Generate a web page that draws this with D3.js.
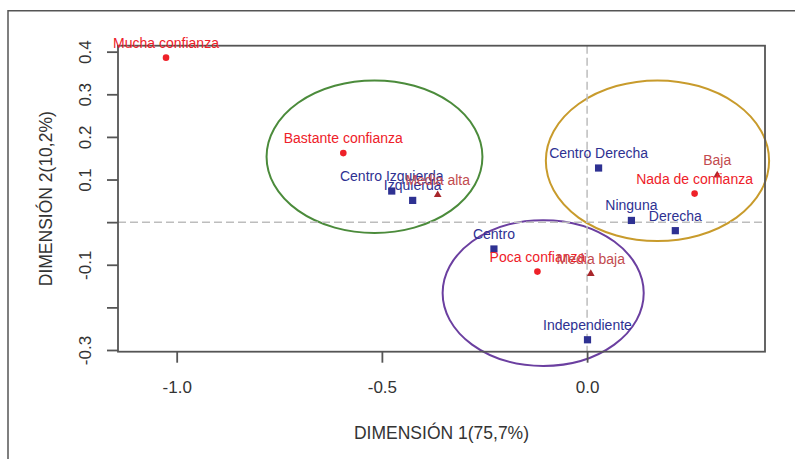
<!DOCTYPE html>
<html>
<head>
<meta charset="utf-8">
<script src="https://cdn.jsdelivr.net/npm/d3@7"></script>
<style>
  html, body { margin: 0; padding: 0; background: #fff; }
  svg { display: block; font-family: "Liberation Sans", Arial, sans-serif; }
</style>
</head>
<body>
<svg id="chart" width="795" height="459"></svg>
<script>
// ---- data ----
const confianzaNames = ["Mucha confianza", "Bastante confianza", "Nada de confianza", "Poca confianza"];
const confianzaX = [-1.026, -0.594, 0.262, -0.121];
const confianzaY = [0.386, 0.162, 0.067, -0.116];

const ideologiaNames = ["Centro Izquierda", "Izquierda", "Centro Derecha", "Ninguna", "Derecha", "Centro", "Independiente"];
const ideologiaX = [-0.476, -0.425, 0.028, 0.108, 0.215, -0.227, 0.001];
const ideologiaY = [0.073, 0.051, 0.127, 0.004, -0.020, -0.063, -0.276];

const nivelNames = ["Media alta", "Baja", "Media baja"];
const nivelX = [-0.364, 0.317, 0.009];
const nivelY = [0.064, 0.110, -0.121];

// cluster ellipses (centre and radii in data units)
const ellipseCx = [-0.518, 0.1715, -0.107];
const ellipseCy = [0.1535, 0.144, -0.1664];
const ellipseRx = [0.263, 0.272, 0.245];
const ellipseRy = [0.179, 0.1885, 0.171];
const ellipseColors = ["#4b8b3b", "#c89b2c", "#6b3fa0"];

const xTickValues = [-1.0, -0.5, 0.0];
const xTickLabels = ["-1.0", "-0.5", "0.0"];
const yTickValues = [-0.3, -0.2, -0.1, 0.0, 0.1, 0.2, 0.3, 0.4];
const yTickLabels = ["-0.3", "", "-0.1", "", "0.1", "0.2", "0.3", "0.4"];

const xTitle = "DIMENSIÓN 1(75,7%)";
const yTitle = "DIMENSIÓN 2(10,2%)";

// ---- layout ----
const svg = d3.select("#chart");
const box = { left: 118, right: 765, top: 45.7, bottom: 351.7 };
const x = d3.scaleLinear().domain([-1.143, 0.4335]).range([box.left, box.right]);
const y = d3.scaleLinear().domain([-0.304, 0.414]).range([box.bottom, box.top]);

const axisColor = "#555";
const textColor = "#333";
const red = "#ee2129";
const blue = "#2e3192";
const darkRed = "#a8262b";
const nivelText = "#c24a4e";

// outer frame
svg.append("path")
  .attr("d", `M8,459 L8,10.7 L795,10.7`)
  .attr("fill", "none").attr("stroke", axisColor).attr("stroke-width", 1.5);

// ellipses
const ell = ellipseCx.map((c, i) => ({ cx: c, cy: ellipseCy[i], rx: ellipseRx[i], ry: ellipseRy[i], col: ellipseColors[i] }));
svg.append("g").selectAll("ellipse").data(ell).join("ellipse")
  .attr("cx", d => x(d.cx))
  .attr("cy", d => y(d.cy))
  .attr("rx", d => x(d.cx + d.rx) - x(d.cx))
  .attr("ry", d => y(d.cy) - y(d.cy + d.ry))
  .attr("fill", "none")
  .attr("stroke", d => d.col)
  .attr("stroke-width", 2);

// dashed reference lines
svg.append("line")
  .attr("x1", box.left).attr("x2", box.right)
  .attr("y1", y(0)).attr("y2", y(0))
  .attr("stroke", "#bdbdbd").attr("stroke-width", 1.5).attr("stroke-dasharray", "8,4");
svg.append("line")
  .attr("x1", x(0)).attr("x2", x(0))
  .attr("y1", box.top).attr("y2", box.bottom)
  .attr("stroke", "#bdbdbd").attr("stroke-width", 1.5).attr("stroke-dasharray", "8,4");

// plot box
svg.append("rect")
  .attr("x", box.left).attr("y", box.top)
  .attr("width", box.right - box.left).attr("height", box.bottom - box.top)
  .attr("fill", "none").attr("stroke", axisColor).attr("stroke-width", 1.8);

// axes
const xAxis = d3.axisBottom(x).tickValues(xTickValues).tickSize(11)
  .tickFormat((d, i) => xTickLabels[i]);
const gx = svg.append("g").attr("transform", `translate(0,${box.bottom})`).call(xAxis);
gx.select(".domain").remove();
gx.selectAll(".tick line").attr("stroke", axisColor).attr("stroke-width", 1.8);
gx.selectAll(".tick text")
  .attr("y", 41).attr("dy", 0)
  .attr("fill", textColor).style("font-size", "17px")
  .style("font-family", "'Liberation Sans', Arial, sans-serif");

const yAxis = d3.axisLeft(y).tickValues(yTickValues).tickSize(11)
  .tickFormat((d, i) => yTickLabels[i]);
const gy = svg.append("g").attr("transform", `translate(${box.left},0)`).call(yAxis);
gy.select(".domain").remove();
gy.selectAll(".tick line").attr("stroke", axisColor).attr("stroke-width", 1.8);
gy.selectAll(".tick text")
  .attr("x", 0).attr("y", -27.5).attr("dy", 0)
  .attr("transform", "rotate(-90)")
  .attr("text-anchor", "middle")
  .attr("fill", textColor).style("font-size", "17px")
  .style("font-family", "'Liberation Sans', Arial, sans-serif");

// axis titles
svg.append("text")
  .attr("x", (box.left + box.right) / 2).attr("y", 439)
  .attr("text-anchor", "middle").attr("fill", textColor)
  .style("font-size", "17.5px").text(xTitle);
svg.append("text")
  .attr("transform", `translate(52,${(box.top + box.bottom) / 2}) rotate(-90)`)
  .attr("text-anchor", "middle").attr("fill", textColor)
  .style("font-size", "17.5px").text(yTitle);

// points
const conf = confianzaNames.map((n, i) => ({ n, x: confianzaX[i], y: confianzaY[i] }));
const ideo = ideologiaNames.map((n, i) => ({ n, x: ideologiaX[i], y: ideologiaY[i] }));
const niv = nivelNames.map((n, i) => ({ n, x: nivelX[i], y: nivelY[i] }));

svg.append("g").selectAll("circle").data(conf).join("circle")
  .attr("cx", d => x(d.x)).attr("cy", d => y(d.y)).attr("r", 3.3).attr("fill", red);

svg.append("g").selectAll("rect").data(ideo).join("rect")
  .attr("x", d => x(d.x) - 3.6).attr("y", d => y(d.y) - 3.6)
  .attr("width", 7.2).attr("height", 7.2).attr("fill", blue);

const tri = d3.symbol().type(d3.symbolTriangle).size(26);
svg.append("g").selectAll("path").data(niv).join("path")
  .attr("transform", d => `translate(${x(d.x)},${y(d.y)})`)
  .attr("d", tri).attr("fill", darkRed);

// labels
const labelGroups = [
  { data: conf, color: red },
  { data: ideo, color: blue },
  { data: niv, color: nivelText }
];
labelGroups.forEach(g => {
  svg.append("g").selectAll("text").data(g.data).join("text")
    .attr("x", d => x(d.x)).attr("y", d => y(d.y) - 10)
    .attr("text-anchor", "middle").attr("fill", g.color)
    .style("font-size", "14px").text(d => d.n);
});
</script>
</body>
</html>
